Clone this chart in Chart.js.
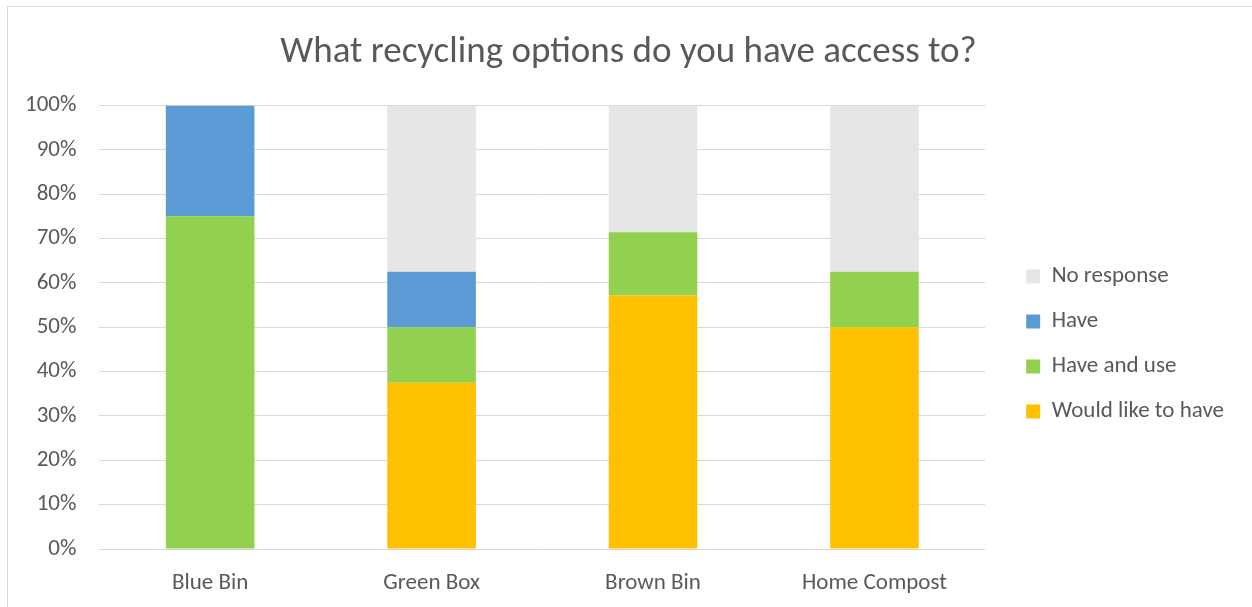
<!DOCTYPE html>
<html>
<head>
<meta charset="utf-8">
<script src="https://cdn.jsdelivr.net/npm/chart.js@4/dist/chart.umd.min.js"></script>
<style>
  html, body { margin: 0; padding: 0; background: #fff; overflow: hidden; }
  #frame { position: absolute; left: 7px; top: 6px; width: 1300px; height: 700px; border: 1px solid #d9d9d9; }
  #wrap { position: absolute; left: 0; top: 0; width: 1252px; height: 607px; }
</style>
</head>
<body>
<div id="frame"></div>
<div id="wrap"><canvas id="chart"></canvas></div>
<script>
const categories = ["Blue Bin", "Green Box", "Brown Bin", "Home Compost"];
const wouldLike = [0, 37.5, 57.14, 50];
const haveAndUse = [75, 12.5, 14.29, 12.5];
const have = [25, 12.5, 0, 0];
const noResponse = [0, 37.5, 28.57, 37.5];

const textColor = "#595959";
const fontFamily = "Carlito, Calibri, Lato, sans-serif";

const data = {
    labels: categories,
    datasets: [
        { label: "Would like to have", data: wouldLike, backgroundColor: "#ffc000" },
        { label: "Have and use", data: haveAndUse, backgroundColor: "#92d050" },
        { label: "Have", data: have, backgroundColor: "#5b9bd5" },
        { label: "No response", data: noResponse, backgroundColor: "#e7e6e6" },
    ],
};

// nudge legend and title blocks to sit where the original has them
const blockShift = {
    id: "blockShift",
    afterLayout(chart) {
        const lg = chart.legend;
        lg.left += 19;
        lg.right += 19;
        lg.top += 41;
        lg.bottom += 41;
        const tb = chart.titleBlock;
        tb.left += 20;
        tb.right += 20;
    },
};

const config = {
    type: "bar",
    data: data,
    plugins: [blockShift],
    options: {
        responsive: false,
        animation: false,
        layout: { padding: { left: 2, right: 37, top: 0, bottom: 1 } },
        datasets: {
            bar: { categoryPercentage: 1, barPercentage: 0.4 },
        },
        plugins: {
            title: {
                display: true,
                text: "What recycling options do you have access to?",
                color: textColor,
                font: { family: fontFamily, size: 37, weight: "normal" },
                padding: { top: 31, bottom: 30 },
            },
            legend: {
                position: "right",
                reverse: true,
                labels: {
                    color: textColor,
                    font: { family: fontFamily, size: 23 },
                    boxWidth: 14,
                    boxHeight: 14,
                    padding: 22,
                },
            },
            tooltip: { enabled: false },
        },
        scales: {
            x: {
                stacked: true,
                grid: { display: false, drawTicks: false },
                border: { display: false },
                ticks: {
                    color: textColor,
                    font: { family: fontFamily, size: 23 },
                    padding: 20,
                },
                afterFit: (scale) => { scale.height = 57; },
            },
            y: {
                stacked: true,
                min: 0,
                max: 100,
                grid: { color: "#d9d9d9", drawTicks: false },
                border: { display: false },
                ticks: {
                    stepSize: 10,
                    color: textColor,
                    font: { family: fontFamily, size: 23 },
                    padding: 23,
                    callback: (v) => v + "%",
                },
            },
        },
    },
};

const canvas = document.getElementById("chart");
canvas.width = 1252;
canvas.height = 607;
new Chart(canvas, config);
</script>
</body>
</html>
